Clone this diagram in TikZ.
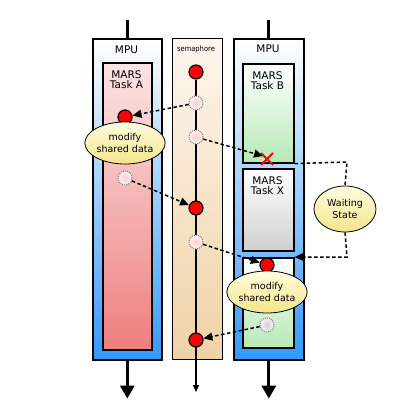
\documentclass[tikz,border=0pt]{standalone}
\usepackage{fontspec}
\setmainfont{DejaVu Sans}
\newfontfamily\condfont{DejaVu Sans Condensed}
\usetikzlibrary{arrows.meta,calc,shapes.geometric}
\definecolor{mpublue}{HTML}{3399FF}
\definecolor{semtop}{HTML}{FDF6EE}
\definecolor{sembot}{HTML}{EFD2A6}
\definecolor{pinktop}{HTML}{FBE4E4}
\definecolor{pinkbot}{HTML}{EE7F7F}
\definecolor{greenbot}{HTML}{B6E9B6}
\definecolor{greybot}{HTML}{CFCFCF}
\definecolor{ylwtop}{HTML}{FFFDE0}
\definecolor{ylwbot}{HTML}{F4E48A}
\tikzset{
  box/.style={draw=black,line width=1.6pt,inner sep=0pt,anchor=north west},
  mpubox/.style={box,top color=white,bottom color=mpublue},
  sembox/.style={box,line width=1.2pt,top color=semtop,bottom color=sembot},
  taskbox/.style={box,top color=white},
  lbl/.style={font=\fontsize{10.5}{11}\selectfont,align=center,inner sep=0pt},
  oval/.style={ellipse,draw=black,line width=0.8pt,top color=ylwtop,bottom color=ylwbot,inner sep=0pt,font=\fontsize{9.5}{11.5}\selectfont,align=center},
  reddot/.style={circle,draw=black,line width=1.2pt,fill=red,minimum size=14pt,inner sep=0pt},
  ghost/.style={circle,draw=gray,densely dotted,line width=1pt,inner color=pink!90!red!60,outer color=pink!25,minimum size=14pt,inner sep=0pt},
  dasharrow/.style={line width=1.5pt,dash pattern=on 3.5pt off 2.5pt,-{Triangle[length=9pt,width=8pt]}},
  dashline/.style={line width=1.5pt,dash pattern=on 3.5pt off 2.5pt},
  bigarrow/.style={line width=3pt,-{Triangle[length=13pt,width=14pt]}},
}
\begin{document}
\begin{tikzpicture}[x=1pt,y=-1pt]
\useasboundingbox (0,0) rectangle (400,420);
% boxes
\node[mpubox,minimum width=69pt,minimum height=321pt] (mpuL) at (92,38) {};
\node[sembox,minimum width=50pt,minimum height=321pt] (sem) at (172,38) {};
\node[mpubox,minimum width=70pt,minimum height=321pt] (mpuR) at (233,38) {};
\node[taskbox,bottom color=pinkbot,top color=pinktop,minimum width=49pt,minimum height=287pt] (taskA) at (102,62) {};
\node[taskbox,bottom color=greenbot,minimum width=51pt,minimum height=99pt] (taskB) at (242,63) {};
\node[taskbox,bottom color=greybot,minimum width=51pt,minimum height=82pt] (taskX) at (242,168) {};
\node[taskbox,bottom color=greenbot,minimum width=51pt,minimum height=90pt] (taskC) at (242,257) {};
% top/bottom lines
\coordinate (tL) at ($(mpuL.north)+(0,-18)$);
\coordinate (tR) at ($(mpuR.north)+(0,-18)$);
\coordinate (bL) at ($(mpuL.south)+(0,38)$);
\coordinate (bR) at ($(mpuR.south)+(0,38)$);
\draw[line width=3pt] (tL) -- (mpuL.north);
\draw[line width=3pt] (tR) -- (mpuR.north);
\draw[bigarrow] (mpuL.south) -- (bL);
\draw[bigarrow] (mpuR.south) -- (bR);
% labels
\node[lbl] (lmpuL) at (126.5,50) {MPU};
\node[lbl] (lmpuR) at (268,49) {MPU};
\node[lbl,font=\condfont\fontsize{7.5}{8}\selectfont] (lsem) at (196,49) {semaphore};
\node[lbl] (lA) at (126.5,80) {MARS\\[-1pt]Task A};
\node[lbl] (lB) at (267.5,81) {MARS\\[-1pt]Task B};
\node[lbl] (lX) at (267.5,186) {MARS\\[-1pt]Task X};
% semaphore line
\coordinate (bS) at (196,392);
\node[reddot] (s1) at (196,72) {};
\draw[line width=1.2pt,-{Triangle[length=7pt,width=6pt]}] (s1) -- (bS);
\node[ghost] (g1) at (196,103) {};
\node[ghost] (g2) at (196,137) {};
\node[reddot] (s2) at (196,208) {};
\node[ghost] (g3) at (196,242) {};
\node[reddot] (s4) at (196,340) {};
% tasks
\node[reddot] (dA) at (125,117) {};
\node[ghost] (gA) at (125,178) {};
\node[reddot] (dC) at (267,265) {};
\node[ghost,inner color=gray!35,outer color=gray!8] (gC) at (267,325) {};
% X
\coordinate (xc) at (267,159);
\draw[red,line width=2pt] ($(xc)+(-6,-6)$) -- ($(xc)+(6,6)$) ($(xc)+(-6,6)$) -- ($(xc)+(6,-6)$);
\coordinate (xend) at (263,156);
% ellipses
\node[oval,minimum width=72pt,minimum height=42pt] (mA) at (125,143) {modify\\shared data};
\node[oval,minimum width=72pt,minimum height=42pt] (mC) at (267,292) {modify\\shared data};
\node[oval,minimum width=62pt,minimum height=46pt] (wait) at (345,209) {Waiting\\State};
% arrows
\draw[dasharrow] (g1) -- (dA);
\draw[dasharrow] (g2) -- (xend);
\draw[dasharrow] (gA) -- (s2);
\draw[dasharrow] (g3) -- (dC);
\draw[dasharrow] (gC) -- (s4);
\coordinate (w1) at (347,162);
\coordinate (w2) at (347,257);
\draw[dashline] (taskB.south east) -- (w1) -- (wait.north);
\draw[dasharrow] (wait.south) -- (w2) -- (taskC.north east);
\end{tikzpicture}
\end{document}
